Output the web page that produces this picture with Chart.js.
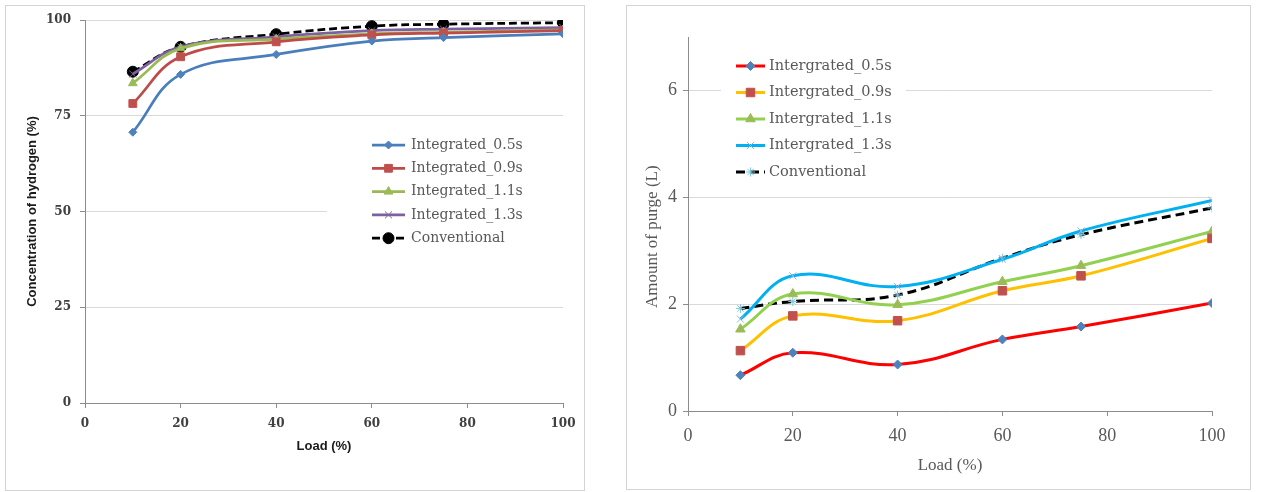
<!DOCTYPE html>
<html>
<head>
<meta charset="utf-8">
<script src="https://cdn.jsdelivr.net/npm/chart.js@4.4.1/dist/chart.umd.min.js"></script>
<style>
  body { margin: 0; background: #fff; width: 1268px; height: 492px; overflow: hidden; position: relative; }
  .marco { position: absolute; border: 1px solid #d4d4d4; }
  canvas { position: absolute; top: 0; }
</style>
</head>
<body>
<div class="marco" style="left:5px;top:5px;width:578px;height:484px"></div>
<div class="marco" style="left:626px;top:5px;width:623px;height:483px"></div>
<canvas id="graficoHidrogeno" width="600" height="492" style="left:0;width:600px;height:492px"></canvas>
<canvas id="graficoPurga" width="658" height="492" style="left:610px;width:658px;height:492px"></canvas>

<script>
// load (%) shared by both charts
const carga = [10, 20, 40, 60, 75, 100];
const ticksCarga = [0, 20, 40, 60, 80, 100];

// left: concentration of hydrogen (%)
const hidrogeno05 = [70.7, 85.8, 91.0, 94.5, 95.4, 96.4];
const hidrogeno09 = [78.2, 90.4, 94.3, 96.1, 96.6, 97.2];
const hidrogeno11 = [83.5, 92.6, 95.0, 96.4, 96.8, 97.4];
const hidrogeno13 = [85.9, 93.0, 95.6, 97.2, 97.6, 98.0];
const hidrogenoConv = [86.5, 93.0, 96.3, 98.4, 98.9, 99.3];
const ticksHidrogeno = [0, 25, 50, 75, 100];
const etiquetasHidrogeno = ["Integrated_0.5s", "Integrated_0.9s", "Integrated_1.1s", "Integrated_1.3s", "Conventional"];

// right: amount of purge (L)
const purga05 = [0.67, 1.09, 0.87, 1.34, 1.58, 2.02];
const purga09 = [1.13, 1.78, 1.69, 2.25, 2.53, 3.23];
const purga11 = [1.53, 2.19, 1.99, 2.42, 2.72, 3.36];
const purga13 = [1.72, 2.53, 2.33, 2.84, 3.37, 3.94];
const purgaConv = [1.92, 2.05, 2.17, 2.86, 3.30, 3.80];
const ticksPurga = [0, 2, 4, 6];
const etiquetasPurga = ["Intergrated_0.5s", "Intergrated_0.9s", "Intergrated_1.1s", "Intergrated_1.3s", "Conventional"];

function puntos(valores) {
  return valores.map((v, i) => ({ x: carga[i], y: v }));
}

function serie(label, valores, linea, marcador, estilo, radio, grosor, guion) {
  return {
    label: label,
    data: puntos(valores),
    borderColor: linea,
    borderWidth: grosor,
    borderDash: guion || [],
    pointStyle: estilo,
    pointRadius: radio,
    pointBackgroundColor: marcador,
    pointBorderColor: marcador,
    pointBorderWidth: 1,
    tension: 0.4,
    fill: false
  };
}

// legend drawn by hand inside the plot, like the original
const leyendaManual = {
  id: "leyendaManual",
  afterDraw(chart, args, opts) {
    const ctx = chart.ctx;
    ctx.save();
    ctx.fillStyle = "#fff";
    ctx.fillRect(opts.caja[0], opts.caja[1], opts.caja[2], opts.caja[3]);
    chart.data.datasets.forEach((ds, i) => {
      const y = opts.arriba + i * opts.paso;
      ctx.strokeStyle = ds.borderColor;
      ctx.lineWidth = ds.borderWidth;
      ctx.setLineDash(ds.borderDash);
      ctx.beginPath();
      ctx.moveTo(opts.x0, y);
      ctx.lineTo(opts.x1, y);
      ctx.stroke();
      ctx.setLineDash([]);
      ctx.fillStyle = ds.pointBackgroundColor;
      ctx.strokeStyle = ds.pointBorderColor;
      ctx.lineWidth = 1;
      const cx = (opts.x0 + opts.x1) / 2;
      if (Chart.helpers && Chart.helpers.drawPoint) {
        Chart.helpers.drawPoint(ctx, { pointStyle: ds.pointStyle, radius: ds.pointRadius, borderWidth: 1, rotation: 0 }, cx, y);
      }
      ctx.fillStyle = opts.color;
      ctx.font = opts.font;
      ctx.textBaseline = "middle";
      ctx.fillText(ds.label, opts.textoX, y);
    });
    ctx.restore();
  }
};

function ejes(cfg) {
  return {
    x: {
      type: "linear",
      min: 0,
      max: 100,
      afterBuildTicks: (s) => { s.ticks = ticksCarga.map(v => ({ value: v })); },
      afterFit: (s) => { s.height = cfg.altoX; },
      grid: { drawOnChartArea: false, drawTicks: true, tickLength: 5, color: "#8c8c8c" },
      border: { color: "#8c8c8c", width: 1 },
      ticks: { font: cfg.fuenteTicks, color: cfg.colorTicks, padding: cfg.padX, maxRotation: 0, autoSkip: false },
      title: { display: true, text: "Load (%)", font: cfg.fuenteTitulo, color: cfg.colorTitulo, padding: { top: 0, bottom: cfg.padTituloX } }
    },
    y: {
      min: 0,
      max: cfg.maxY,
      afterBuildTicks: (s) => { s.ticks = cfg.ticksY.map(v => ({ value: v })); },
      afterFit: (s) => { s.width = cfg.anchoY; },
      grid: { color: "#d9d9d9", tickColor: "#8c8c8c", tickLength: 5, drawTicks: true },
      border: { color: "#8c8c8c", width: 1 },
      ticks: { font: cfg.fuenteTicks, color: cfg.colorTicks, padding: cfg.padY },
      title: { display: true, text: cfg.tituloY, font: cfg.fuenteTitulo, color: cfg.colorTitulo, padding: { top: cfg.padTituloY, bottom: 0 } }
    }
  };
}

document.addEventListener("DOMContentLoaded", function () {
  const ctxH = document.getElementById("graficoHidrogeno").getContext("2d");
  const ctxP = document.getElementById("graficoPurga").getContext("2d");

  new Chart(ctxH, {
    type: "line",
    data: {
      datasets: [
        serie(etiquetasHidrogeno[0], hidrogeno05, "#4A7EBB", "#4F81BD", "rectRot", 4, 2.75),
        serie(etiquetasHidrogeno[1], hidrogeno09, "#BE4B48", "#C0504D", "rect", 5.5, 2.75),
        serie(etiquetasHidrogeno[2], hidrogeno11, "#98B954", "#9BBB59", "triangle", 5, 2.75),
        serie(etiquetasHidrogeno[3], hidrogeno13, "#7D60A0", "#8064A2", "crossRot", 5, 2.75),
        serie(etiquetasHidrogeno[4], hidrogenoConv, "#000000", "#000000", "circle", 5.5, 2.75, [8, 4])
      ]
    },
    options: {
      responsive: false,
      animation: false,
      layout: { padding: { left: 0, top: 20, right: 37, bottom: 0 } },
      plugins: {
        legend: { display: false },
        tooltip: { enabled: false },
        leyendaManual: {
          caja: [327, 138, 236, 112], arriba: 145, paso: 23.3,
          x0: 372, x1: 405, textoX: 411,
          font: "14px 'DejaVu Serif'", color: "#595959"
        }
      },
      scales: ejes({
        altoX: 89, anchoY: 85, maxY: 100, ticksY: ticksHidrogeno,
        fuenteTicks: { family: "'DejaVu Serif'", size: 12, weight: "bold" }, colorTicks: "#404040",
        padX: 9, padY: 9,
        tituloY: "Concentration of hydrogen (%)",
        fuenteTitulo: { family: "'Liberation Sans'", size: 13, weight: "bold" }, colorTitulo: "#1a1a1a",
        padTituloX: 38, padTituloY: 25
      })
    },
    plugins: [leyendaManual]
  });

  new Chart(ctxP, {
    type: "line",
    data: {
      datasets: [
        serie(etiquetasPurga[0], purga05, "#FF0000", "#4F81BD", "rectRot", 4.5, 3),
        serie(etiquetasPurga[1], purga09, "#FFC000", "#C0504D", "rect", 6, 3),
        serie(etiquetasPurga[2], purga11, "#92D050", "#9BBB59", "triangle", 5.5, 3),
        serie(etiquetasPurga[3], purga13, "#00B0F0", "#9DB4DC", "crossRot", 5, 3),
        serie(etiquetasPurga[4], purgaConv, "#000000", "#7FC6DA", "star", 4.5, 3, [9, 5])
      ]
    },
    options: {
      responsive: false,
      animation: false,
      layout: { padding: { left: 0, top: 37, right: 56, bottom: 0 } },
      plugins: {
        legend: { display: false },
        tooltip: { enabled: false },
        leyendaManual: {
          caja: [111, 50, 185, 136], arriba: 66, paso: 26.5,
          x0: 126, x1: 155, textoX: 159,
          font: "14.5px 'DejaVu Serif'", color: "#595959"
        }
      },
      scales: ejes({
        altoX: 81, anchoY: 78, maxY: 7, ticksY: ticksPurga,
        fuenteTicks: { family: "'Liberation Serif'", size: 18 }, colorTicks: "#595959",
        padX: 9, padY: 6,
        // trailing spaces push the title a little lower, as in the original
        tituloY: "Amount of purge (L)\u00a0\u00a0\u00a0\u00a0\u00a0\u00a0",
        fuenteTitulo: { family: "'Liberation Serif'", size: 17 }, colorTitulo: "#595959",
        padTituloX: 16, padTituloY: 32
      })
    },
    plugins: [leyendaManual]
  });
});
</script>
</body>
</html>
